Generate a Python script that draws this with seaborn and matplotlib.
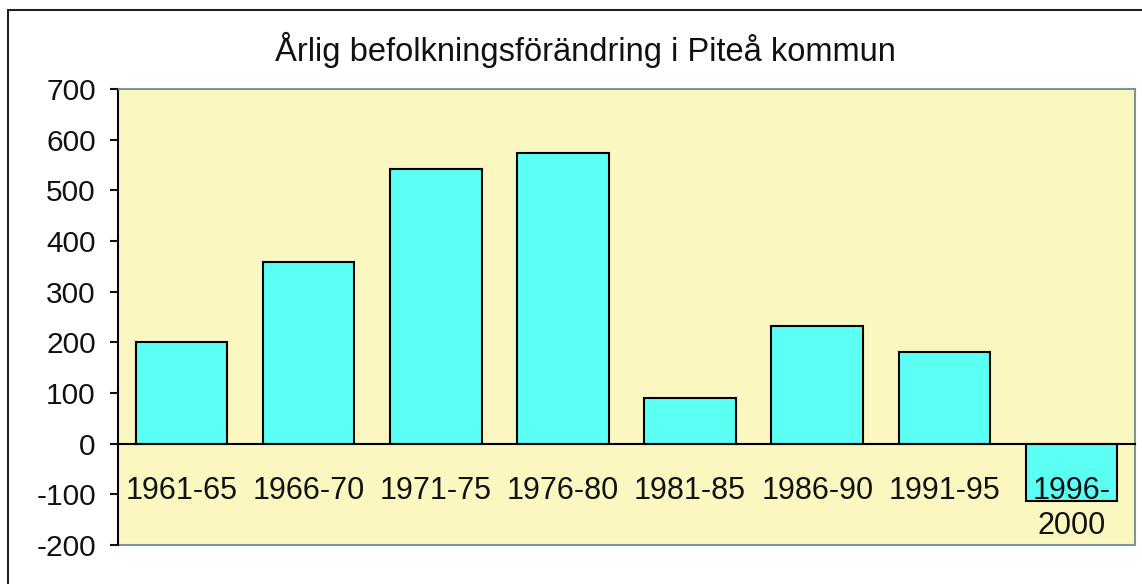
import numpy as np
import pandas as pd
import matplotlib
matplotlib.use("Agg")
import matplotlib.pyplot as plt
from matplotlib.patches import Rectangle
import seaborn as sns

# data
periods = ["1961-65", "1966-70", "1971-75", "1976-80", "1981-85", "1986-90", "1991-95", "1996-2000"]
tick_labels = ["1961-65", "1966-70", "1971-75", "1976-80", "1981-85", "1986-90", "1991-95", "1996-\n2000"]
change = [200, 358, 543, 573, 90, 232, 180, -114]
yticks = [-200, -100, 0, 100, 200, 300, 400, 500, 600, 700]

df = pd.DataFrame({"period": periods, "change": change})

sns.set_style("white")
plt.rcParams['font.family'] = ['Liberation Sans', 'DejaVu Sans']
plt.rcParams['axes.unicode_minus'] = False

fig = plt.figure(figsize=(11.42, 5.84), dpi=100)
ax = fig.add_axes([118/1142, 1-545/584, (1135-118)/1142, (545-89)/584])
ax.set_facecolor("#FAF7C0")

sns.barplot(data=df, x="period", y="change", color="#5CFFF4", saturation=1,
            edgecolor="black", linewidth=1.5, width=0.72, ax=ax)

ax.set_xlim(-0.5, len(periods) - 0.5)
ax.set_ylim(-200, 700)
ax.set_yticks(yticks)
ax.set_xlabel("")
ax.set_ylabel("")
ax.set_axisbelow(False)  # labels must sit on top of the negative bar

# category axis sits at zero, Excel style
ax.spines['bottom'].set_position(('data', 0))
ax.spines['bottom'].set_color("black")
ax.spines['bottom'].set_linewidth(1.5)
ax.spines['left'].set_color("black")
ax.spines['left'].set_linewidth(1.5)
for s in ['top', 'right']:
    ax.spines[s].set_color("#7F9494")
    ax.spines[s].set_linewidth(1.5)
ax.axhline(-200, color="#7F9494", lw=1.5, clip_on=False)

ax.set_xticks(range(len(periods)))
ax.set_xticklabels(tick_labels)
ax.set_xticks(np.arange(-0.5, len(periods)), minor=True)
ax.tick_params(axis='x', which='major', length=0, pad=23, labelsize=22, colors="#111111")
ax.tick_params(axis='x', which='minor', length=6.5, width=1.5, direction='out', color="black")
ax.tick_params(axis='y', length=6, width=1.5, direction='out', pad=10, labelsize=21.5,
               colors="#111111", left=True)
for lab in ax.get_xticklabels():
    lab.set_linespacing(1.25)

fig.text(585/1142, 1-50/584, "Årlig befolkningsförändring i Piteå kommun",
         ha='center', va='center', fontsize=23.5, color="#111111")

# chart frame
fig.patches.append(Rectangle((8/1142, -0.1), 1.2, 1.1 - 10/584, transform=fig.transFigure,
                             fill=False, edgecolor="#222222", lw=1.5))

fig.savefig("out.png", dpi=100)
